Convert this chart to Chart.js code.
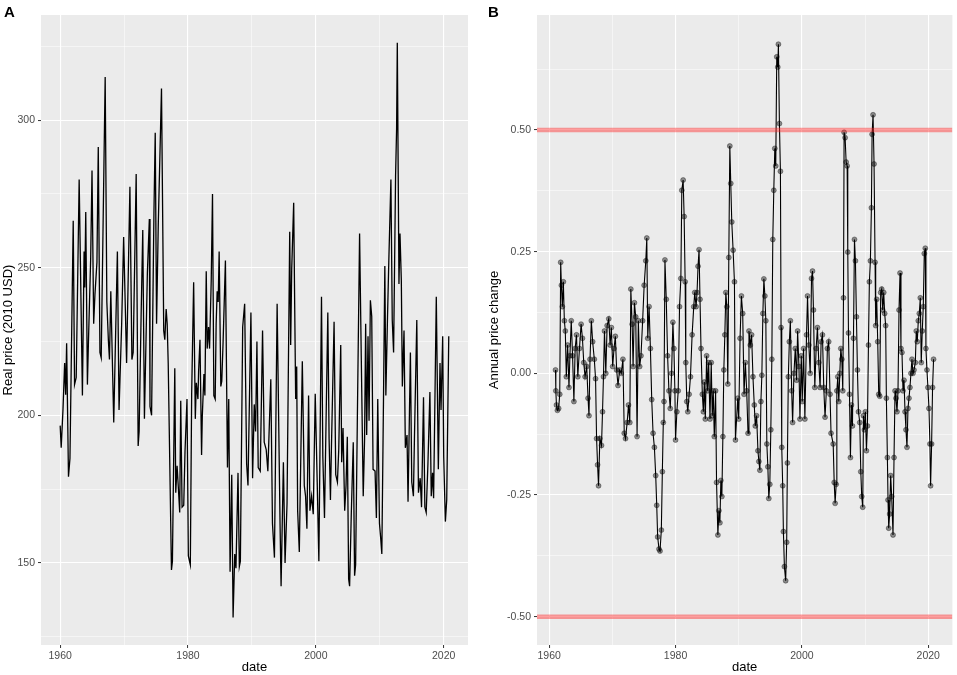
<!DOCTYPE html>
<html>
<head>
<meta charset="utf-8">
<script src="https://cdn.jsdelivr.net/npm/chart.js@4.4.0/dist/chart.umd.min.js"></script>
<style>
  html, body { margin: 0; padding: 0; background: #fff; }
  #wrap { position: relative; width: 957px; height: 675px; }
  #wrap canvas { position: absolute; top: 0; }
</style>
</head>
<body>
<div id="wrap">
  <canvas id="chartA" width="478" height="675" style="left:0"></canvas>
  <canvas id="chartB" width="479" height="675" style="left:478px"></canvas>
</div>
<script>
// panel A: real price (decimal years)
var priceDates = [
  1960.00, 1960.16, 1960.44, 1960.70, 1960.86, 1961.01, 1961.30, 1961.53, 1962.04, 1962.25,
  1962.51, 1962.97, 1963.48, 1963.74, 1963.85, 1964.00, 1964.26, 1964.41, 1964.77, 1964.98,
  1965.24, 1965.44, 1965.75, 1965.96, 1966.22, 1966.42, 1967.04, 1967.30, 1967.55, 1967.71,
  1967.92, 1968.38, 1968.95, 1969.21, 1969.62, 1969.93, 1970.39, 1970.91, 1971.22, 1971.42,
  1971.89, 1972.20, 1972.35, 1972.66, 1972.92, 1973.18, 1973.64, 1973.95, 1974.05, 1974.30,
  1974.67, 1974.87, 1975.08, 1975.34, 1975.85, 1976.20, 1976.37, 1976.58, 1976.74, 1976.90,
  1977.41, 1977.56, 1977.93, 1978.08, 1978.29, 1978.50, 1978.70, 1978.86, 1979.07, 1979.33,
  1979.53, 1979.84, 1980.05, 1980.36, 1980.57, 1980.88, 1981.14, 1981.30, 1981.55, 1981.66,
  1981.87, 1982.12, 1982.23, 1982.49, 1982.64, 1982.85, 1983.00, 1983.21, 1983.37, 1983.63,
  1983.83, 1984.04, 1984.25, 1984.40, 1984.56, 1984.72, 1984.87, 1985.13, 1985.28, 1985.49,
  1985.85, 1986.17, 1986.37, 1986.58, 1986.84, 1987.05, 1987.31, 1987.50, 1987.82, 1988.03,
  1988.19, 1988.55, 1988.86, 1989.17, 1989.38, 1989.84, 1990.10, 1990.36, 1990.57, 1990.78,
  1990.98, 1991.30, 1991.66, 1991.92, 1992.23, 1992.49, 1992.95, 1993.21, 1993.52, 1993.94,
  1994.40, 1994.56, 1994.92, 1995.18, 1995.49, 1995.91, 1996.06, 1996.22, 1996.53, 1996.63,
  1996.84, 1997.00, 1997.15, 1997.41, 1997.88, 1998.19, 1998.39, 1998.60, 1998.86, 1999.07,
  1999.33, 1999.59, 1999.90, 2000.21, 2000.47, 2000.88, 2001.09, 2001.35, 2001.87, 2002.07,
  2002.28, 2002.44, 2002.85, 2003.11, 2003.37, 2003.58, 2003.89, 2004.04, 2004.25, 2004.51,
  2004.72, 2004.92, 2005.13, 2005.28, 2005.54, 2005.85, 2006.06, 2006.22, 2006.48, 2006.84,
  2007.10, 2007.41, 2007.62, 2007.79, 2007.95, 2008.16, 2008.32, 2008.53, 2008.74, 2008.95,
  2009.26, 2009.47, 2009.68, 2009.95, 2010.16, 2010.32, 2010.58, 2010.79, 2010.95, 2011.21,
  2011.42, 2011.74, 2011.95, 2012.16, 2012.47, 2012.63, 2012.74, 2013.00, 2013.16, 2013.37,
  2013.53, 2013.79, 2014.00, 2014.26, 2014.42, 2014.79, 2015.00, 2015.26, 2015.42, 2015.79,
  2016.05, 2016.32, 2016.53, 2016.84, 2017.05, 2017.26, 2017.53, 2017.84, 2018.05, 2018.26,
  2018.42, 2018.84, 2019.16, 2019.42, 2019.58, 2019.84, 2020.00, 2020.26, 2020.47, 2020.79
];
var priceValues = [
  196.5, 189.0, 202.0, 217.7, 207.0, 224.4, 179.2, 185.4, 265.9, 210.4,
  212.8, 279.9, 206.7, 255.5, 243.3, 268.9, 210.4, 223.8, 253.0, 282.9,
  231.0, 240.9, 251.8, 290.9, 221.3, 219.5, 314.6, 238.4, 225.0, 218.9,
  242.0, 197.6, 255.5, 201.8, 231.0, 260.4, 217.7, 277.4, 218.9, 221.3,
  281.7, 189.6, 194.5, 233.4, 262.8, 198.8, 248.2, 266.5, 203.0, 200.0,
  268.9, 295.7, 231.0, 264.0, 310.7, 228.7, 225.6, 236.0, 231.0, 217.7,
  147.6, 150.6, 215.9, 173.8, 182.9, 175.0, 167.1, 204.9, 168.9, 169.5,
  187.8, 205.5, 152.4, 149.4, 207.3, 245.1, 198.8, 211.0, 205.5, 215.2,
  225.6, 186.6, 199.4, 214.0, 206.7, 248.8, 222.6, 229.9, 222.6, 245.7,
  275.0, 206.7, 205.5, 231.0, 242.0, 238.4, 255.5, 209.8, 211.6, 225.0,
  252.4, 182.3, 205.5, 147.0, 179.9, 131.5, 153.0, 148.2, 180.5, 148.8,
  150.6, 229.9, 237.8, 183.5, 176.2, 234.8, 178.7, 203.7, 194.5, 225.0,
  182.3, 181.1, 228.7, 190.9, 188.4, 181.1, 212.2, 163.4, 151.8, 237.8,
  162.8, 142.1, 184.1, 150.0, 170.1, 262.2, 223.8, 249.4, 272.0, 249.4,
  205.5, 216.5, 167.7, 153.7, 218.3, 176.2, 172.6, 161.6, 206.7, 167.7,
  172.6, 166.5, 207.3, 177.4, 150.6, 240.2, 186.0, 165.2, 234.8, 192.1,
  171.3, 189.6, 231.7, 179.9, 177.4, 188.4, 223.8, 184.1, 195.7, 167.7,
  176.2, 192.7, 144.5, 142.1, 166.5, 190.9, 145.7, 149.4, 196.9, 261.6,
  220.1, 172.6, 192.1, 231.0, 193.3, 226.8, 198.2, 239.0, 233.5, 181.7,
  181.1, 165.2, 205.5, 163.4, 157.9, 153.0, 205.5, 250.6, 206.7, 233.5,
  253.0, 279.9, 232.3, 221.3, 281.1, 297.0, 326.2, 244.5, 261.6, 245.7,
  209.8, 228.7, 189.0, 193.3, 170.7, 221.3, 177.4, 172.6, 192.1, 232.3,
  173.8, 178.7, 168.9, 206.1, 168.9, 167.1, 183.5, 207.9, 172.6, 180.5,
  171.9, 240.2, 181.7, 217.7, 201.8, 226.8, 186.0, 164.0, 171.3, 226.8
];

// panel B: annual price change
var changeDates = [
  1961.00, 1961.05, 1961.15, 1961.30, 1961.50, 1961.67, 1961.82, 1961.93, 1962.08, 1962.24,
  1962.40, 1962.55, 1962.71, 1962.92, 1963.13, 1963.28, 1963.49, 1963.70, 1963.91, 1964.11,
  1964.32, 1964.53, 1964.79, 1965.05, 1965.26, 1965.47, 1965.68, 1965.94, 1966.15, 1966.30,
  1966.46, 1966.67, 1966.88, 1967.14, 1967.34, 1967.50, 1967.66, 1967.81, 1968.02, 1968.28,
  1968.44, 1968.59, 1968.75, 1968.96, 1969.17, 1969.43, 1969.64, 1969.84, 1970.05, 1970.26,
  1970.47, 1970.68, 1970.89, 1971.15, 1971.41, 1971.67, 1971.88, 1972.08, 1972.34, 1972.55,
  1972.76, 1972.92, 1973.13, 1973.28, 1973.49, 1973.70, 1973.91, 1974.11, 1974.32, 1974.53,
  1974.79, 1975.03, 1975.29, 1975.45, 1975.60, 1975.81, 1976.02, 1976.23, 1976.44, 1976.65,
  1976.86, 1977.02, 1977.17, 1977.38, 1977.54, 1977.75, 1977.91, 1978.06, 1978.17, 1978.32,
  1978.53, 1978.74, 1978.95, 1979.16, 1979.37, 1979.58, 1979.74, 1979.90, 1980.00, 1980.21,
  1980.42, 1980.63, 1980.84, 1980.99, 1981.20, 1981.36, 1981.52, 1981.62, 1981.78, 1981.94,
  1982.15, 1982.36, 1982.62, 1982.88, 1983.04, 1983.25, 1983.40, 1983.56, 1983.72, 1983.87,
  1984.03, 1984.24, 1984.40, 1984.55, 1984.71, 1984.92, 1985.08, 1985.24, 1985.45, 1985.65,
  1985.81, 1985.97, 1986.13, 1986.34, 1986.49, 1986.70, 1986.86, 1987.02, 1987.17, 1987.33,
  1987.49, 1987.64, 1987.80, 1987.96, 1988.12, 1988.27, 1988.43, 1988.59, 1988.74, 1988.90,
  1989.11, 1989.32, 1989.48, 1989.84, 1990.00, 1990.21, 1990.42, 1990.63, 1990.84, 1991.05,
  1991.26, 1991.47, 1991.62, 1991.83, 1992.04, 1992.25, 1992.46, 1992.62, 1992.83, 1993.04,
  1993.19, 1993.35, 1993.51, 1993.66, 1993.82, 1993.98, 1994.14, 1994.29, 1994.45, 1994.61,
  1994.76, 1994.92, 1995.08, 1995.24, 1995.39, 1995.55, 1995.71, 1995.86, 1996.02, 1996.18,
  1996.28, 1996.44, 1996.60, 1996.70, 1996.81, 1996.96, 1997.07, 1997.23, 1997.43, 1997.59,
  1997.70, 1997.85, 1998.01, 1998.17, 1998.38, 1998.53, 1998.74, 1998.95, 1999.16, 1999.32,
  1999.53, 1999.69, 1999.90, 2000.05, 2000.26, 2000.47, 2000.73, 2000.89, 2001.10, 2001.31,
  2001.52, 2001.68, 2001.83, 2002.04, 2002.25, 2002.46, 2002.67, 2002.88, 2003.04, 2003.25,
  2003.46, 2003.66, 2003.87, 2004.03, 2004.24, 2004.45, 2004.61, 2004.95, 2005.11, 2005.26,
  2005.42, 2005.53, 2005.68, 2005.84, 2006.00, 2006.16, 2006.32, 2006.47, 2006.58, 2006.68,
  2006.84, 2007.00, 2007.16, 2007.26, 2007.37, 2007.53, 2007.68, 2007.84, 2008.00, 2008.16,
  2008.32, 2008.47, 2008.63, 2008.79, 2008.95, 2009.16, 2009.32, 2009.47, 2009.63, 2009.74,
  2009.89, 2010.05, 2010.21, 2010.37, 2010.53, 2010.68, 2010.84, 2011.00, 2011.11, 2011.26,
  2011.42, 2011.58, 2011.68, 2011.84, 2012.00, 2012.16, 2012.32, 2012.47, 2012.63, 2012.79,
  2012.95, 2013.10, 2013.26, 2013.37, 2013.53, 2013.63, 2013.74, 2013.89, 2014.05, 2014.21,
  2014.42, 2014.58, 2014.74, 2014.89, 2015.05, 2015.21, 2015.37, 2015.53, 2015.68, 2015.84,
  2016.00, 2016.16, 2016.32, 2016.47, 2016.63, 2016.79, 2016.95, 2017.10, 2017.26, 2017.42,
  2017.58, 2017.74, 2017.95, 2018.10, 2018.26, 2018.42, 2018.58, 2018.74, 2018.89, 2019.05,
  2019.21, 2019.37, 2019.53, 2019.63, 2019.79, 2019.95, 2020.11, 2020.26, 2020.37, 2020.53,
  2020.68, 2020.84
];
var changeValues = [
  0.007, -0.036, -0.065, -0.076, -0.072, -0.043, 0.228, 0.181, 0.137, 0.188,
  0.108, 0.087, -0.007, 0.058, -0.029, 0.036, 0.108, 0.036, -0.058, 0.051,
  0.079, -0.007, 0.051, 0.101, 0.072, 0.022, -0.007, 0.014, -0.051, -0.087,
  0.029, 0.108, 0.065, 0.029, -0.011, -0.134, -0.188, -0.231, -0.134, -0.148,
  -0.079, -0.007, 0.087, 0.000, 0.098, 0.112, 0.058, 0.094, 0.014, 0.051,
  0.076, 0.007, -0.025, 0.007, 0.000, 0.029, -0.123, -0.134, -0.101, -0.065,
  -0.101, 0.173, 0.101, 0.014, 0.145, 0.116, -0.130, 0.108, 0.014, 0.036,
  0.108, 0.181, 0.231, 0.278, 0.072, 0.137, 0.051, -0.054, -0.123, -0.152,
  -0.210, -0.271, -0.336, -0.361, -0.365, -0.322, -0.202, -0.101, -0.058, 0.233,
  0.152, 0.036, -0.036, -0.072, 0.000, 0.105, 0.051, -0.036, -0.137, -0.079,
  -0.036, 0.137, 0.195, 0.376, 0.397, 0.322, 0.188, 0.022, -0.058, -0.079,
  -0.043, -0.007, 0.079, 0.137, 0.166, 0.137, 0.166, 0.220, 0.254, 0.152,
  0.051, -0.043, -0.079, -0.018, -0.094, 0.036, -0.036, 0.022, -0.094, 0.022,
  -0.087, -0.036, -0.130, -0.036, -0.224, -0.332, -0.282, -0.307, -0.220, -0.253,
  -0.130, 0.007, 0.079, 0.166, 0.137, -0.022, 0.238, 0.467, 0.390, 0.311,
  0.253, 0.188, -0.137, -0.051, -0.094, 0.072, 0.159, 0.123, -0.043, 0.022,
  -0.036, -0.123, 0.087, 0.058, 0.079, -0.007, -0.065, -0.108, -0.087, -0.159,
  -0.181, -0.199, -0.058, -0.004, 0.123, 0.194, 0.159, 0.108, -0.145, -0.192,
  -0.257, -0.228, -0.116, 0.029, 0.275, 0.376, 0.462, 0.426, 0.650, 0.629,
  0.676, 0.513, 0.415, 0.094, -0.152, -0.231, -0.325, -0.397, -0.426, -0.347,
  -0.184, -0.007, 0.065, 0.108, -0.036, -0.101, 0.000, 0.051, -0.014, 0.087,
  0.014, -0.094, 0.036, -0.058, 0.051, -0.094, 0.079, 0.159, 0.058, 0.000,
  0.195, 0.210, 0.130, -0.029, 0.051, 0.094, 0.022, -0.029, 0.065, 0.079,
  -0.029, -0.090, -0.036, 0.051, 0.065, -0.043, -0.123, -0.145, -0.224, -0.267,
  -0.228, -0.036, -0.007, -0.058, 0.000, 0.051, 0.029, -0.036, 0.155, 0.495,
  0.484, 0.434, 0.426, 0.249, 0.083, -0.043, -0.173, -0.065, -0.108, 0.072,
  0.275, 0.231, 0.116, 0.007, -0.079, -0.101, -0.202, -0.253, -0.275, -0.087,
  -0.116, -0.079, -0.159, -0.108, 0.058, 0.188, 0.231, 0.340, 0.491, 0.531,
  0.430, 0.228, 0.098, 0.152, 0.065, -0.043, -0.047, 0.166, 0.173, 0.130,
  0.166, 0.123, 0.098, -0.051, -0.173, -0.260, -0.318, -0.289, -0.210, -0.253,
  -0.332, -0.173, -0.036, -0.051, -0.079, -0.036, 0.130, 0.206, 0.051, 0.043,
  -0.036, -0.014, -0.079, -0.116, -0.152, -0.072, -0.051, -0.029, 0.000, 0.029,
  0.000, 0.007, 0.022, 0.087, 0.065, 0.108, 0.123, 0.155, 0.022, 0.087,
  0.137, 0.246, 0.257, 0.051, 0.007, -0.029, -0.072, -0.145, -0.231, -0.145,
  -0.029, 0.029
];

// reference lines in panel B
var limitLevels = [0.5, -0.5];

// axis ticks (major ones get labels, minor ones only a thin grid line)
var xTicks = [1960, 1970, 1980, 1990, 2000, 2010, 2020];
var xMajor = [1960, 1980, 2000, 2020];
var yTicksA = [125, 150, 175, 200, 225, 250, 275, 300, 325];
var yMajorA = [150, 200, 250, 300];
var yTicksB = [-0.5, -0.375, -0.25, -0.125, 0, 0.125, 0.25, 0.375, 0.5, 0.625];
var yMajorB = [-0.5, -0.25, 0, 0.25, 0.5];

Chart.defaults.font.family = '"Liberation Sans", Arial, sans-serif';
Chart.defaults.animation = false;

function isIn(list, v) {
  return list.some(function (m) { return Math.abs(m - v) < 1e-9; });
}
function pairs(xs, ys) {
  return xs.map(function (x, i) { return { x: x, y: ys[i] }; });
}

var panelBack = {
  id: 'panelBack',
  beforeDraw: function (chart) {
    var a = chart.chartArea, c = chart.ctx;
    c.save();
    c.fillStyle = '#EBEBEB';
    c.fillRect(a.left, a.top, a.right - a.left, a.bottom - a.top);
    c.restore();
  },
  afterDraw: function (chart, args, opts) {
    var c = chart.ctx;
    c.save();
    c.fillStyle = '#000';
    c.font = 'bold 15px "Liberation Sans", Arial, sans-serif';
    c.textBaseline = 'alphabetic';
    c.fillText(opts.tag, opts.x, opts.y);
    c.restore();
  }
};

function gridFor(major) {
  return {
    color: '#FFFFFF',
    lineWidth: function (ctx) { return isIn(major, ctx.tick.value) ? 1.1 : 0.5; },
    tickColor: function (ctx) { return isIn(major, ctx.tick.value) ? '#333333' : 'rgba(0,0,0,0)'; },
    tickWidth: 1,
    tickLength: 3,
    drawTicks: true
  };
}

function xAxis(min, max) {
  return {
    type: 'linear',
    min: min,
    max: max,
    border: { display: false },
    grid: gridFor(xMajor),
    afterBuildTicks: function (s) { s.ticks = xTicks.map(function (v) { return { value: v }; }); },
    afterFit: function (s) { s.height = 30; },
    ticks: {
      autoSkip: false, maxRotation: 0, padding: 2,
      color: '#4D4D4D', font: { size: 10.5 },
      callback: function (v) { return isIn(xMajor, v) ? String(v) : ''; }
    },
    title: { display: true, text: 'date', color: '#000', font: { size: 13 }, padding: { top: 0, bottom: 0 } }
  };
}

function yAxis(min, max, ticks, major, width, label, titlePad, fmt) {
  return {
    type: 'linear',
    min: min,
    max: max,
    border: { display: false },
    grid: gridFor(major),
    afterBuildTicks: function (s) { s.ticks = ticks.map(function (v) { return { value: v }; }); },
    afterFit: function (s) { s.width = width; },
    ticks: {
      autoSkip: false, padding: 3,
      color: '#4D4D4D', font: { size: 10.5 },
      callback: function (v) { return isIn(major, v) ? fmt(v) : ''; }
    },
    title: { display: true, text: label, color: '#000', font: { size: 13 }, padding: { top: titlePad, bottom: 0 } }
  };
}

new Chart(document.getElementById('chartA'), {
  type: 'line',
  data: {
    datasets: [{
      data: pairs(priceDates, priceValues),
      borderColor: '#000000',
      borderWidth: 1.3,
      pointRadius: 0,
      tension: 0
    }]
  },
  options: {
    responsive: false,
    layout: { padding: { left: 0, right: 10, top: 15, bottom: 0 } },
    plugins: { legend: { display: false }, tooltip: { enabled: false }, panelBack: { tag: 'A', x: 4, y: 17 } },
    scales: {
      x: xAxis(1957.0, 2023.8),
      y: yAxis(122.2, 335.6, yTicksA, yMajorA, 41, 'Real price (2010 USD)', 1, function (v) { return String(v); })
    }
  },
  plugins: [panelBack]
});

var xMinB = 1958.07, xMaxB = 2023.82;
var limitSets = limitLevels.map(function (lv) {
  return {
    data: [{ x: xMinB, y: lv }, { x: xMaxB, y: lv }],
    borderColor: 'rgba(255,40,40,0.45)',
    borderWidth: 4.5,
    pointRadius: 0,
    order: 0
  };
});

new Chart(document.getElementById('chartB'), {
  type: 'line',
  data: {
    datasets: [{
      data: pairs(changeDates, changeValues),
      borderColor: '#000000',
      borderWidth: 1.1,
      pointRadius: 2.5,
      pointBackgroundColor: 'rgba(0,0,0,0.42)',
      pointBorderColor: 'rgba(0,0,0,0.55)',
      pointBorderWidth: 0.6,
      tension: 0,
      order: 1
    }].concat(limitSets)
  },
  options: {
    responsive: false,
    layout: { padding: { left: 0, right: 2, top: 15, bottom: 0 } },
    plugins: { legend: { display: false }, tooltip: { enabled: false }, panelBack: { tag: 'B', x: 10, y: 17 } },
    scales: {
      x: xAxis(xMinB, xMaxB),
      y: yAxis(-0.558, 0.736, yTicksB, yMajorB, 59, 'Annual price change', 9, function (v) { return v.toFixed(2); })
    }
  },
  plugins: [panelBack]
});
</script>
</body>
</html>
